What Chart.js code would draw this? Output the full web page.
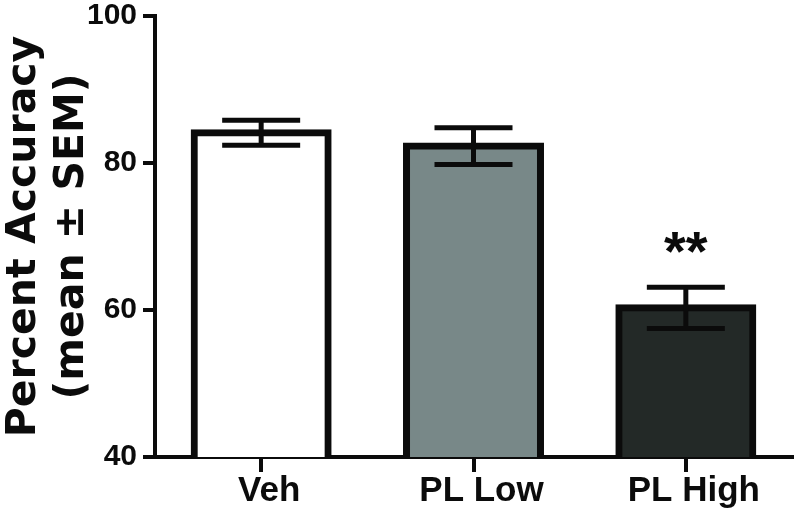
<!DOCTYPE html>
<html>
<head>
<meta charset="utf-8">
<script src="https://cdn.jsdelivr.net/npm/chart.js@4.4.0/dist/chart.umd.min.js"></script>
<style>
  html, body { margin: 0; padding: 0; background: #fff; }
  #wrap { width: 800px; height: 524px; }
</style>
</head>
<body>
<div id="wrap"><canvas id="chart"></canvas></div>
<script>
const groups = ['Veh', 'PL Low', 'PL High'];
const means = [84.1, 82.3, 60.3];
const sems = [1.7, 2.5, 2.8];
const sigMarks = ['', '', '**'];
const yTicks = [40, 60, 80, 100];

const barColors = ['#ffffff', '#788888', '#232927'];
const ink = '#0b0b0b';
const tickFont = '"Liberation Sans", Arial, sans-serif';

// error bars + significance stars, drawn on top of the bars
const errorBars = {
  id: 'errorBars',
  afterDatasetsDraw(chart) {
    const ctx = chart.ctx;
    const y = chart.scales.y;
    const meta = chart.getDatasetMeta(0);
    ctx.save();
    ctx.strokeStyle = ink;
    ctx.lineWidth = 5;
    meta.data.forEach((bar, i) => {
      const top = y.getPixelForValue(means[i] + sems[i]);
      const bot = y.getPixelForValue(means[i] - sems[i]);
      const half = 39;
      ctx.beginPath();
      ctx.moveTo(bar.x, top); ctx.lineTo(bar.x, bot);
      ctx.moveTo(bar.x - half, top); ctx.lineTo(bar.x + half, top);
      ctx.moveTo(bar.x - half, bot); ctx.lineTo(bar.x + half, bot);
      ctx.stroke();
      if (sigMarks[i]) {
        ctx.fillStyle = ink;
        ctx.font = 'bold 56px ' + tickFont;
        ctx.textAlign = 'center';
        ctx.textBaseline = 'alphabetic';
        ctx.fillText(sigMarks[i], bar.x, top - 17);
      }
    });
    ctx.restore();
  }
};

new Chart(document.getElementById('chart'), {
  type: 'bar',
  data: {
    labels: groups,
    datasets: [{
      data: means,
      backgroundColor: barColors,
      borderColor: ink,
      borderWidth: 7,
      borderSkipped: 'start',
      inflateAmount: 3.5, // centre the outline on the bar edge
      barPercentage: 0.631,
      categoryPercentage: 1
    }]
  },
  options: {
    responsive: true,
    maintainAspectRatio: false,
    animation: false,
    layout: { padding: { top: 16, right: 8, bottom: 0, left: 0 } },
    plugins: { legend: { display: false }, tooltip: { enabled: false } },
    scales: {
      x: {
        z: 1,
        grid: { display: true, drawOnChartArea: false, drawTicks: true, tickLength: 15, lineWidth: 4, color: ink, offset: false },
        border: { display: true, width: 4, color: ink },
        ticks: { color: ink, padding: 0, labelOffset: 8, font: { family: tickFont, size: 35, weight: 'bold', lineHeight: 1.1 } },
        afterFit(scale) { scale.height = 67; }
      },
      y: {
        min: 40,
        max: 100,
        afterBuildTicks(scale) { scale.ticks = yTicks.map(v => ({ value: v })); },
        grid: { display: true, drawOnChartArea: false, drawTicks: true, tickLength: 12, lineWidth: 4, color: ink },
        border: { display: true, width: 4, color: ink },
        ticks: { color: ink, padding: 6, font: { family: tickFont, size: 30, weight: 'bold' } },
        title: {
          display: true,
          text: ['Percent Accuracy', '(mean ± SEM)'],
          color: ink,
          padding: 0,
          font: { family: '"DejaVu Sans", sans-serif', size: 41, weight: 'bold', lineHeight: 1.17 }
        },
        afterFit(scale) {
          scale.width = 155;
          scale.paddingTop = 0;
          scale.paddingBottom = 0;
        }
      }
    }
  },
  plugins: [errorBars]
});
</script>
</body>
</html>
